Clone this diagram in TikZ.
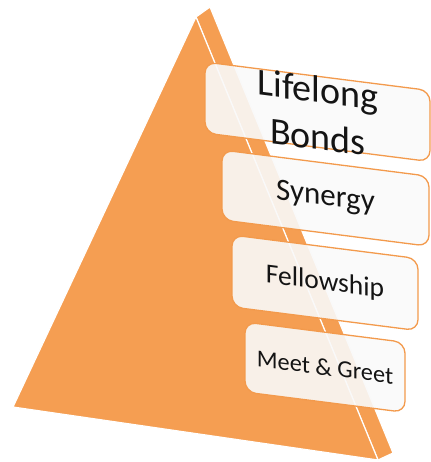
\documentclass[tikz,border=0pt]{standalone}
\usepackage{fontspec}
\setmainfont{Carlito}
\definecolor{pyr}{HTML}{F59E52}
\definecolor{boxline}{HTML}{F39A4C}
\definecolor{boxfill}{HTML}{F9F9F9}
\begin{document}
\begin{tikzpicture}[x=1pt,y=-1pt,
  face/.style={fill=pyr, draw=white, line width=1.2pt, line join=round},
  tier/.style={draw=boxline, line width=1.3pt, fill=boxfill, fill opacity=0.9,
    rounded corners=11pt, yslant=-0.127, inner sep=0pt},
  tiertext/.style={yslant=-0.127, text=black!92, align=center, inner sep=0pt}]
\useasboundingbox (0,0) rectangle (430,462);
% pyramid
\coordinate (apex) at (196,17);
\coordinate (apexb) at (210,7);
\coordinate (bl) at (13,407);
\coordinate (br) at (378,460);
\coordinate (brb) at (393,453);
\path[face] (apex) -- (apexb) -- (brb) -- (br) -- cycle;
\path[face] (apex) -- (bl) -- (br) -- cycle;
% tiers
\node[tier, minimum width=225pt, minimum height=71pt] (lb) at (317.5,111.8) {};
\node[tiertext, font=\fontsize{38}{47}\selectfont] (lbt) at (318,113) {Lifelong\\Bonds};
\node[tier, minimum width=207pt, minimum height=70pt] (sy) at (325.5,198.1) {};
\node[tiertext, font=\fontsize{31}{37}\selectfont] (syt) at (sy.center) {Synergy};
\node[tier, minimum width=186pt, minimum height=72pt] (fe) at (325,282.8) {};
\node[tiertext, font=\fontsize{27.5}{33}\selectfont] (fet) at (fe.center) {Fellowship};
\node[tier, minimum width=160pt, minimum height=70pt] (mg) at (325,367.2) {};
\node[tiertext, font=\fontsize{24.3}{29}\selectfont] (mgt) at (mg.center) {Meet \& Greet};
\end{tikzpicture}
\end{document}
